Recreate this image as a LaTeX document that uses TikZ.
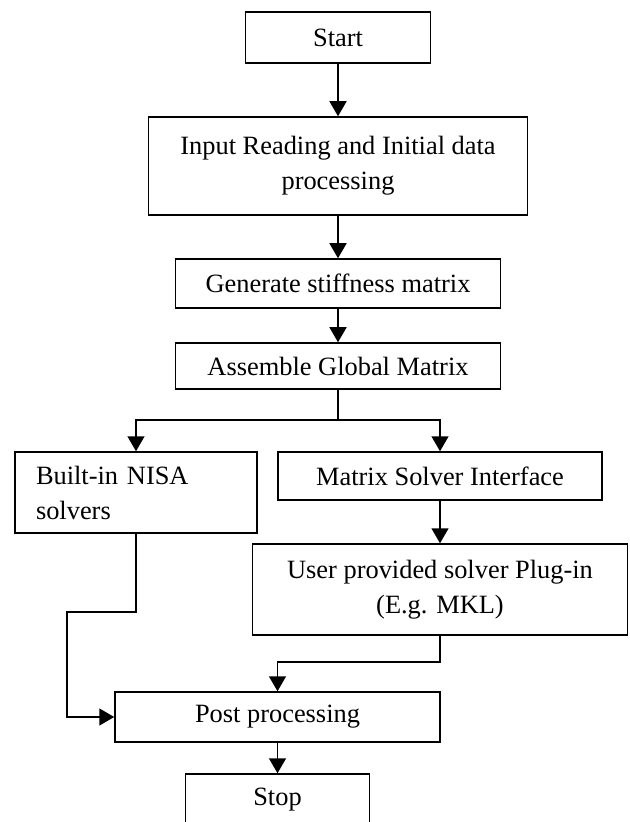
\documentclass[tikz,border=0pt]{standalone}
\usepackage{fontspec}
\setmainfont{Liberation Serif}
\usetikzlibrary{arrows.meta}
\begin{document}
\begin{tikzpicture}[x=0.5pt, y=-0.5pt,
    box/.style={draw, line width=0.75pt, inner sep=0pt, align=center,
      font=\fontsize{13.2}{17.5}\selectfont},
    wire/.style={line width=0.75pt},
    flow/.style={line width=0.75pt, -{Triangle[width=8.5pt, length=7.5pt]}}]
  \useasboundingbox (0,0) rectangle (629,822);
  \node[box, minimum width=92.5pt, minimum height=25.5pt] (start) at (338,37.5) {Start};
  \node[box, minimum width=189.5pt, minimum height=49pt] (input) at (338,166)
    {Input Reading and Initial data\\processing};
  \node[box, minimum width=162.5pt, minimum height=24.5pt] (gen) at (338,283.5) {Generate stiffness matrix};
  \node[box, minimum width=162.5pt, minimum height=23pt] (asm) at (338,366) {Assemble Global Matrix};
  \node[box, align=left, text width=100pt, inner xsep=10.5pt, minimum height=40.5pt] (builtin) at (136,492.5)
    {Built-in NISA\\solvers};
  \node[box, minimum width=162pt, minimum height=24pt] (matrix) at (440,476) {Matrix Solver Interface};
  \node[box, minimum width=187.5pt, minimum height=45.5pt] (mkl) at (440,589.5)
    {User provided solver Plug-in\\(E.g. MKL)};
  \node[box, minimum width=162.5pt, minimum height=25pt] (post) at (277.5,717) {Post processing};
  \node[box, minimum width=92pt, minimum height=26pt] (stop) at (277.5,800) {Stop};

  \coordinate (split) at (338,420);
  \coordinate (mjoin) at (440,662);
  \coordinate (bjoin) at (67,612);

  \draw[flow] (start) -- (input);
  \draw[flow] (input) -- (gen);
  \draw[flow] (gen) -- (asm);
  \draw[wire] (asm) -- (split);
  \draw[flow] (split) -| (builtin);
  \draw[flow] (split) -| (matrix);
  \draw[flow] (matrix) -- (mkl);
  \draw[flow] (mkl) -- (mjoin) -| (post);
  \draw[flow] (builtin) |- (bjoin) |- (post);
  \draw[flow] (post) -- (stop);
\end{tikzpicture}
\end{document}
